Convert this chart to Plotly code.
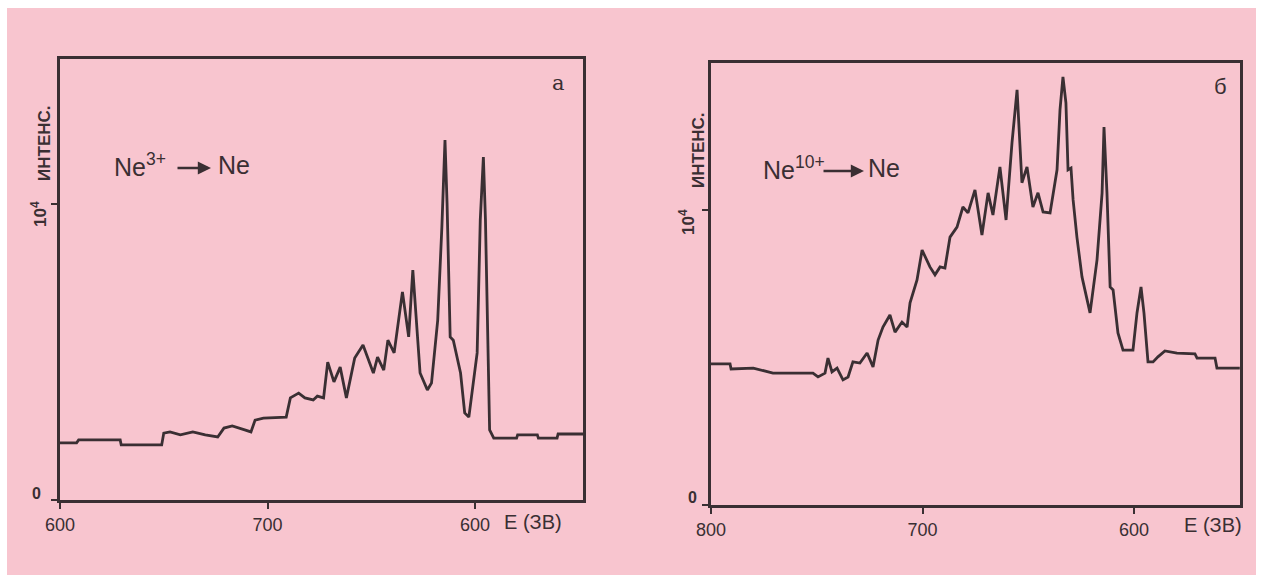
import plotly.graph_objects as go

# ---------- data ----------
# panel a: Ne3+ -> Ne
energy_a = [800, 792, 791, 771, 770.5, 751, 750, 747, 742, 736, 730, 724, 721, 717, 711, 708, 706,
            702, 691, 689, 685, 682, 678, 676, 673, 671, 668, 665, 662, 658, 654, 649, 647, 644,
            642, 639, 635, 632, 630, 628, 626.5, 623, 621, 618, 616, 614.5, 613.5, 612, 610.5,
            607, 605, 603, 601, 599, 597.5, 596, 595, 594, 593, 591, 580, 579.5, 570, 569.5,
            560.5, 560, 548]
intens_a = [1930, 1930, 2030, 2030, 1860, 1860, 2260, 2300, 2200, 2300, 2200, 2130, 2430, 2500,
            2370, 2300, 2700, 2770, 2800, 3450, 3610, 3450, 3380, 3510, 3450, 4660, 3990, 4490,
            3450, 4800, 5240, 4290, 4830, 4390, 5400, 4970, 7030, 5510, 7770, 5640, 4290, 3720,
            3950, 6080, 9220, 12160, 10030, 5510, 5400, 4290, 2940, 2800, 3950, 4970, 9460,
            11590, 9460, 6080, 2370, 2090, 2090, 2200, 2200, 2090, 2090, 2230, 2230]

# panel б: Ne10+ -> Ne
energy_b = [800, 791, 790.5, 780, 770.7, 751.8, 749.4, 746.1, 744.7, 742.8, 740.4, 737.6, 735.2,
            732.9, 729.6, 726.2, 723.4, 721.0, 718.7, 715.4, 713.0, 709.7, 707.3, 705.9, 702.6,
            700.2, 696.5, 694.1, 691.7, 689.4, 687.0, 683.7, 680.9, 678.5, 675.2, 671.9, 669.0,
            666.7, 663.4, 660.5, 657.7, 655.3, 653.0, 650.6, 647.8, 645.4, 643.0, 639.7, 636.4,
            635.0, 633.6, 632.2, 631.2, 629.8, 628.8, 627.0, 624.6, 620.8, 617.5, 615.1, 614.2,
            612.8, 611.3, 609.9, 607.6, 605.2, 600.5, 598.6, 596.7, 595.3, 593.4, 591.0, 588.7,
            585.4, 579.7, 571.2, 570.2, 561.7, 560.8, 550]
intens_b = [4780, 4780, 4610, 4640, 4470, 4470, 4340, 4470, 4980, 4510, 4640, 4240, 4340, 4850,
            4810, 5150, 4680, 5590, 6030, 6440, 5860, 6200, 6030, 6850, 7630, 8640, 8070, 7800,
            8070, 8030, 9080, 9420, 10100, 9900, 10680, 9150, 10580, 9830, 11460, 9660, 12270,
            14070, 10920, 11460, 10100, 10580, 9930, 9900, 11360, 13390, 14510, 13630, 11360,
            11420, 10340, 9080, 7730, 6510, 8310, 10580, 12810, 10580, 7390, 7290, 5830, 5250,
            5250, 6510, 7390, 6510, 4850, 4850, 5020, 5220, 5150, 5120, 4980, 4980, 4640, 4640]

tick_vals = [800, 700, 600]
tick_text_a = ["600", "700", "600"]
tick_text_b = ["800", "700", "600"]

# ---------- figure ----------
W, H = 1262, 575
INK = "#3a2f33"
PINK = "#f8c5cf"


def px(x):
    return x / W


def py(y):
    return 1 - y / H


fig = go.Figure()
fig.add_trace(go.Scatter(x=energy_a, y=intens_a, mode="lines", xaxis="x", yaxis="y",
                         line=dict(color=INK, width=2.8), showlegend=False, hoverinfo="skip"))
fig.add_trace(go.Scatter(x=energy_b, y=intens_b, mode="lines", xaxis="x2", yaxis="y2",
                         line=dict(color=INK, width=2.8), showlegend=False, hoverinfo="skip"))

axis_common = dict(showline=True, mirror=True, linecolor=INK, linewidth=2.8, showgrid=False,
                   zeroline=False, ticks="outside", tickcolor=INK, ticklen=6, tickwidth=2,
                   automargin=False)
font_tick = dict(family="Liberation Sans", size=18, color=INK)

fig.update_layout(
    width=W, height=H,
    margin=dict(l=0, r=0, t=0, b=0, pad=0),
    paper_bgcolor="white",
    plot_bgcolor=PINK,
    xaxis=dict(domain=[px(60), px(583)], range=[800, 548], anchor="y",
               tickvals=tick_vals, ticktext=tick_text_a, tickfont=font_tick, **axis_common),
    yaxis=dict(domain=[py(500), py(59)], range=[0, 14900], anchor="x",
               tickvals=[0, 10000], showticklabels=False, **axis_common),
    xaxis2=dict(domain=[px(711), px(1240)], range=[800, 549.9], anchor="y2",
                tickvals=tick_vals, ticktext=tick_text_b, tickfont=font_tick, **axis_common),
    yaxis2=dict(domain=[py(505), py(63)], range=[0, 14980], anchor="x2",
                tickvals=[0, 10000], showticklabels=False, **axis_common),
)

# pink paper of the scan
fig.add_shape(type="rect", xref="paper", yref="paper", x0=px(7), x1=px(1256), y0=0, y1=py(8),
              fillcolor=PINK, line=dict(width=0), layer="below")

ann = []


def text(x, y, s, size=18, angle=0, family="Liberation Sans", xanchor="center"):
    ann.append(dict(x=px(x), y=py(y), xref="paper", yref="paper", text=s, showarrow=False,
                    textangle=angle, xanchor=xanchor, yanchor="middle",
                    font=dict(family=family, size=size, color=INK)))


def arrow(x0, x1, y):
    ann.append(dict(x=px(x1), y=py(y), ax=-(x1 - x0), ay=0, xref="paper", yref="paper",
                    axref="pixel", ayref="pixel", text="", showarrow=True, arrowhead=2,
                    arrowsize=1.1, arrowwidth=2.4, arrowcolor=INK))


# panel a texts
text(45, 143, "<b>ИНТЕНС.</b>", size=17, angle=-90)
text(39, 214, "<b>10<sup>4</sup></b>", size=17, angle=-90)
text(36, 494, "<b>0</b>", size=16)
text(533, 522, "E (ЗВ)", size=20)
text(558, 83, "a", size=21, family="DejaVu Serif")
text(112, 165, "Ne<sup>3+</sup>", size=25, xanchor="left")
arrow(176, 211, 168)
text(216, 165, "Ne", size=25, xanchor="left")

# panel б texts
text(698, 150, "<b>ИНТЕНС.</b>", size=17, angle=-90)
text(687, 222, "<b>10<sup>4</sup></b>", size=17, angle=-90)
text(692, 497, "<b>0</b>", size=16)
text(1213, 525, "E (ЗВ)", size=20)
text(1220, 87, "б", size=22)
text(761, 168, "Ne<sup>10+</sup>", size=25, xanchor="left")
arrow(822, 864, 171)
text(866, 168, "Ne", size=25, xanchor="left")

fig.update_layout(annotations=ann)

fig.write_html("out.html")
